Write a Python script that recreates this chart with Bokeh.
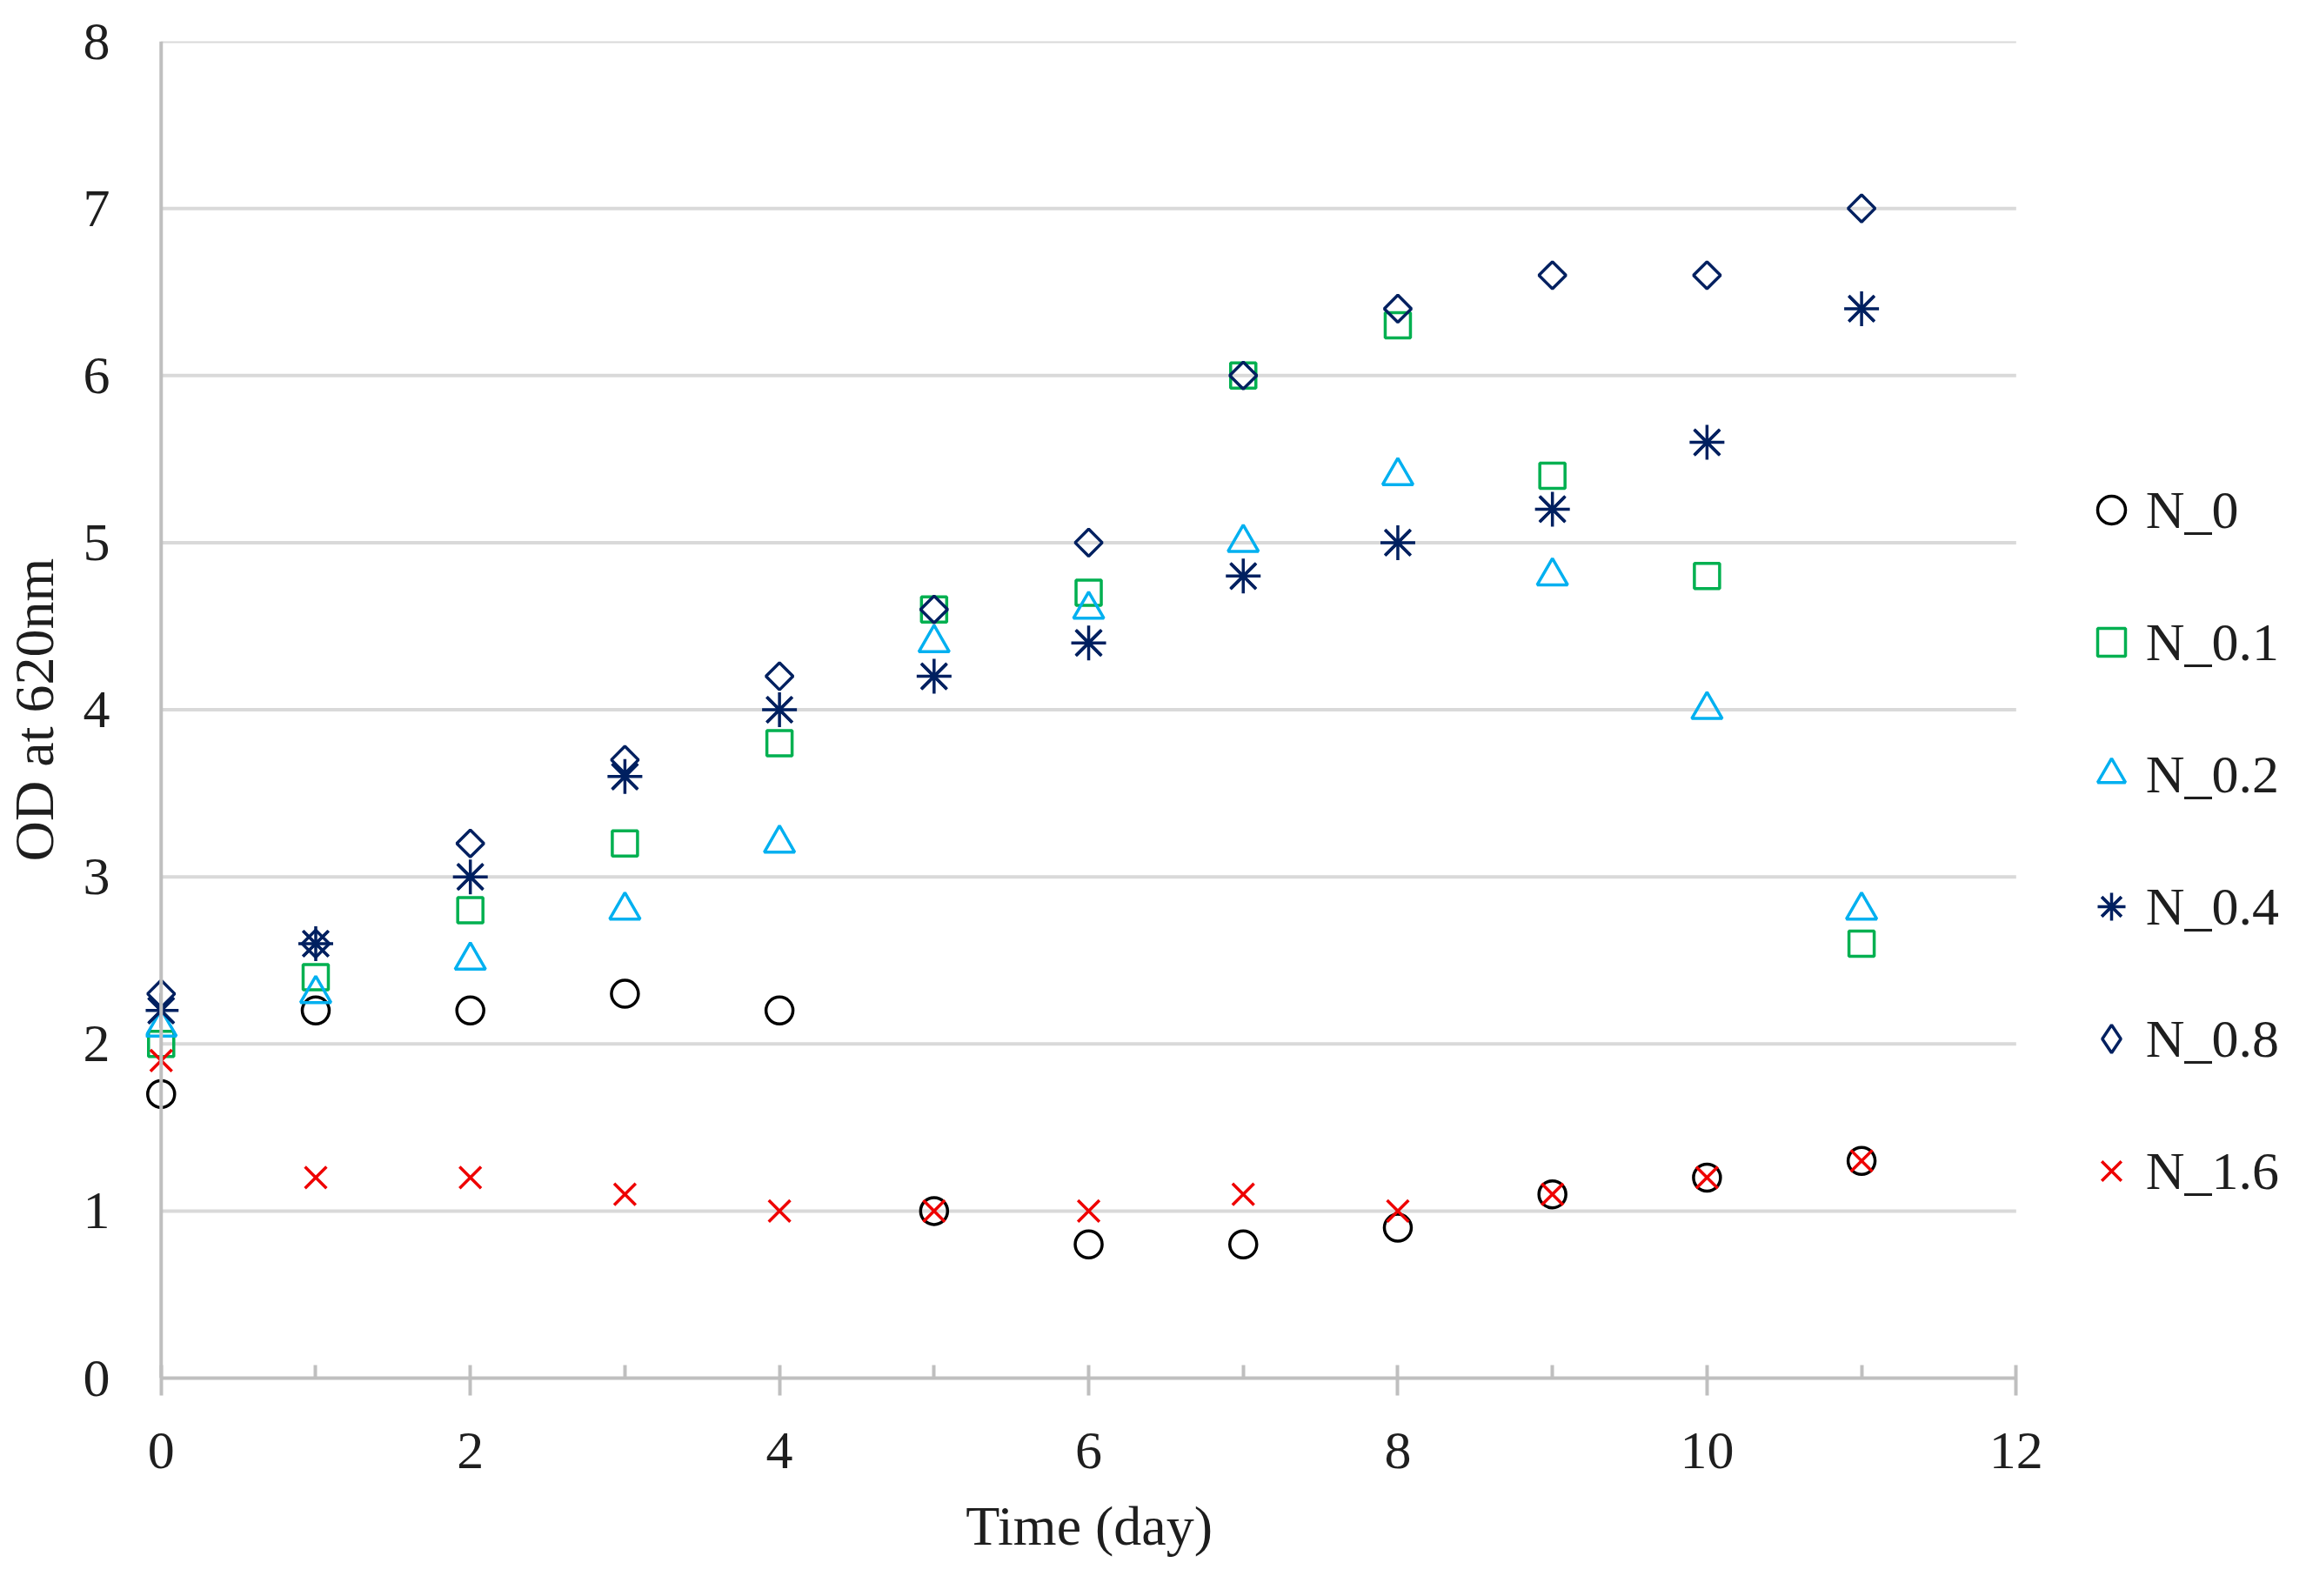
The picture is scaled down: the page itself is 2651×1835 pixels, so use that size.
import math
from bokeh.plotting import figure
from bokeh.models import Range1d, FixedTicker, Span, Legend, LegendItem, Title
from bokeh.embed import file_html
from bokeh.resources import INLINE

days = [0, 1, 2, 3, 4, 5, 6, 7, 8, 9, 10, 11]
n_0 = [1.7, 2.2, 2.2, 2.3, 2.2, 1.0, 0.8, 0.8, 0.9, 1.1, 1.2, 1.3]
n_01 = [2.0, 2.4, 2.8, 3.2, 3.8, 4.6, 4.7, 6.0, 6.3, 5.4, 4.8, 2.6]
n_02 = [2.1, 2.3, 2.5, 2.8, 3.2, 4.4, 4.6, 5.0, 5.4, 4.8, 4.0, 2.8]
n_04 = [2.2, 2.6, 3.0, 3.6, 4.0, 4.2, 4.4, 4.8, 5.0, 5.2, 5.6, 6.4]
n_08 = [2.3, 2.6, 3.2, 3.7, 4.2, 4.6, 5.0, 6.0, 6.4, 6.6, 6.6, 7.0]
n_16 = [1.9, 1.2, 1.2, 1.1, 1.0, 1.0, 1.0, 1.1, 1.0, 1.1, 1.2, 1.3]

series_labels = ["N_0", "N_0.1", "N_0.2", "N_0.4", "N_0.8", "N_1.6"]
x_major = [0, 2, 4, 6, 8, 10, 12]
x_minor = [1, 3, 5, 7, 9, 11]
y_ticks = [0, 1, 2, 3, 4, 5, 6, 7, 8]
x_title = "Time (day)"
y_title = "OD at 620nm"

FONT = "Liberation Serif"
TXT = "#1e1e1e"
AXC = "#bfbfbf"
GRC = "#d9d9d9"
NAVY = "#002060"
GREEN = "#00b050"
LBLUE = "#00b0f0"
RED = "#ee0000"

W, H = 2630, 1819
LEFT, RIGHT, TOP, BOTTOM = 163, 0, 47, 235
PX_PER_DAY = 178.0
x_start = -0.1
x_end = x_start + (W - LEFT - RIGHT) / PX_PER_DAY

p = figure(width=W, height=H,
           x_range=Range1d(x_start, x_end), y_range=Range1d(0, 8),
           output_backend="svg", toolbar_location=None,
           min_border_left=LEFT, min_border_right=RIGHT,
           min_border_top=TOP, min_border_bottom=BOTTOM)
p.outline_line_color = None
p.xgrid.visible = False
p.ygrid.visible = False
p.background_fill_color = "white"
p.border_fill_color = "white"

# horizontal gridlines from 0 to 12
gy = y_ticks[1:]
p.segment(x0=[x_major[0]] * len(gy), x1=[x_major[-1]] * len(gy), y0=gy, y1=gy,
          line_color=GRC, line_width=4)
# y axis line at x = 0
p.add_layout(Span(location=0, dimension="height", line_color=AXC, line_width=4))

# x axis
xa = p.xaxis[0]
xa.ticker = FixedTicker(ticks=x_major, minor_ticks=x_minor)
xa.bounds = (x_major[0], x_major[-1])
xa.axis_line_color = AXC
xa.axis_line_width = 4
xa.major_tick_line_color = AXC
xa.major_tick_line_width = 4
xa.major_tick_in = 15
xa.major_tick_out = 20
xa.minor_tick_line_color = AXC
xa.minor_tick_line_width = 4
xa.minor_tick_in = 15
xa.minor_tick_out = 0
xa.major_label_text_font = FONT
xa.major_label_text_font_size = "62px"
xa.major_label_text_color = TXT
xa.major_label_standoff = 43

# x axis title, centred under the 0..12 span (the frame is wider for the legend)
XT_SIZE = 64
xt_width = 4.471 * XT_SIZE
xt_center = (x_major[0] + x_major[-1]) / 2
xt_offset = (xt_center - x_start) * PX_PER_DAY - xt_width / 2
p.add_layout(Title(text=x_title, align="left", offset=xt_offset,
                   vertical_align="top", standoff=56,
                   text_font=FONT, text_font_size=f"{XT_SIZE}px",
                   text_font_style="normal", text_color=TXT), "below")

# y axis
ya = p.yaxis[0]
ya.ticker = FixedTicker(ticks=y_ticks)
ya.axis_line_color = None
ya.major_tick_line_color = None
ya.minor_tick_line_color = None
ya.major_tick_in = 0
ya.major_tick_out = 0
ya.major_label_text_font = FONT
ya.major_label_text_font_size = "62px"
ya.major_label_text_color = TXT
ya.major_label_standoff = 41
ya.axis_label = y_title
ya.axis_label_text_font = FONT
ya.axis_label_text_font_size = "64px"
ya.axis_label_text_font_style = "normal"
ya.axis_label_text_color = TXT
ya.axis_label_standoff = 18

LW = 3.5
r0 = p.scatter(days, n_0, marker="circle", size=31, fill_color=None,
               line_color="black", line_width=LW)
r1 = p.scatter(days, n_01, marker="square", size=29, fill_color=None,
               line_color=GREEN, line_width=LW)
r2 = p.scatter(days, n_02, marker="triangle", size=35, fill_color=None,
               line_color=LBLUE, line_width=LW)
r3a = p.scatter(days, n_04, marker="x", size=42, line_color=NAVY, line_width=LW)
r3b = p.scatter(days, n_04, marker="asterisk", size=40, line_color=NAVY, line_width=LW)
r4 = p.scatter(days, n_08, marker="square", size=22, angle=math.pi / 4,
               fill_color=None, line_color=NAVY, line_width=LW)
r5 = p.scatter(days, n_16, marker="x", size=35, line_color=RED, line_width=LW)
# legend-only glyph for the diamond series (legend swatches ignore angle)
r4_leg = p.scatter(days, n_08, marker="diamond", size=32, fill_color=None,
                   line_color=NAVY, line_width=LW, visible=False)

items = [
    LegendItem(label=series_labels[0], renderers=[r0]),
    LegendItem(label=series_labels[1], renderers=[r1]),
    LegendItem(label=series_labels[2], renderers=[r2]),
    LegendItem(label=series_labels[3], renderers=[r3a, r3b]),
    LegendItem(label=series_labels[4], renderers=[r4_leg]),
    LegendItem(label=series_labels[5], renderers=[r5]),
]
leg_x = (x_major[-1] - x_start) * PX_PER_DAY + 66
legend = Legend(items=items, location=(leg_x, 198), orientation="vertical",
                glyph_width=80, glyph_height=80, spacing=72, padding=0, margin=0,
                label_standoff=-12, border_line_color=None, background_fill_alpha=0,
                label_text_font=FONT, label_text_font_size="62px",
                label_text_color=TXT, click_policy="none")
p.add_layout(legend, "center")

open("out.html", "w").write(file_html(p, INLINE))
